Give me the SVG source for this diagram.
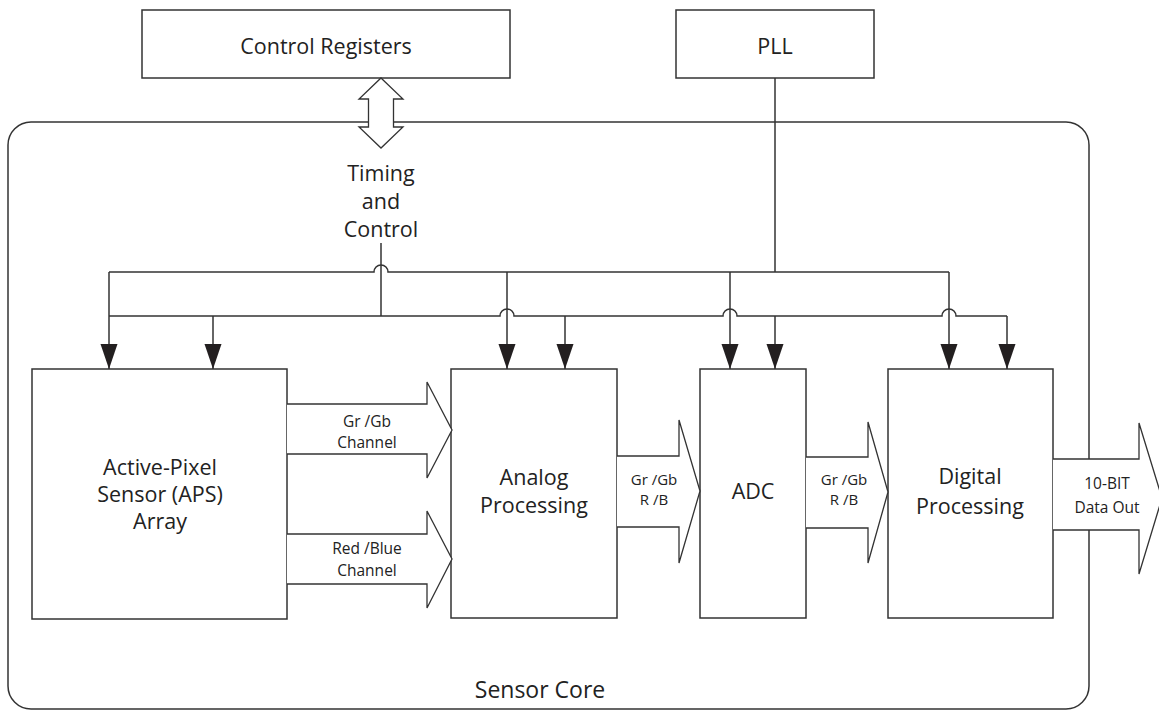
<svg xmlns="http://www.w3.org/2000/svg" width="1159" height="711" viewBox="0 0 1159 711">
<style>
.box{fill:#fff;stroke:#333;stroke-width:1.5}
.ln{fill:none;stroke:#333;stroke-width:1.5}
.bar{fill:#fff;stroke:#333;stroke-width:1.3;stroke-linejoin:miter}
text{font-family:"Open Sans","Noto Sans",sans-serif;fill:#222;text-anchor:middle}
.big{font-size:21.5px}
.sm{font-size:15.5px}
.xs{font-size:15px}
</style>
<defs>
<marker id="ah" markerUnits="userSpaceOnUse" markerWidth="26" markerHeight="18" refX="25" refY="8.5" orient="auto">
<path d="M0,0 L25,8.5 L0,17 Z" fill="#231f20"/>
</marker>
</defs>
<rect width="1159" height="711" fill="#fff"/>
<g id="sensor-core">
<rect class="box" x="8" y="122" width="1081" height="587" rx="23" ry="23"/>
<text class="big" x="540" y="698" style="font-size:23px">Sensor Core</text>
</g>
<g id="control-registers">
<rect class="box" x="142" y="10" width="368" height="68"/>
<text class="big" x="326" y="54">Control Registers</text>
</g>
<g id="pll">
<rect class="box" x="676" y="10" width="198" height="68"/>
<text class="big" x="775" y="54">PLL</text>
</g>
<g id="timing-control">
<text class="big" x="381" y="181">Timing</text>
<text class="big" x="381" y="209">and</text>
<text class="big" x="381" y="237">Control</text>
</g>
<g id="aps">
<rect class="box" x="32" y="369" width="255" height="250"/>
<text class="big" x="160" y="475">Active-Pixel</text>
<text class="big" x="160" y="502">Sensor (APS)</text>
<text class="big" x="160" y="529">Array</text>
</g>
<g id="analog">
<rect class="box" x="451" y="369" width="166" height="249"/>
<text class="big" x="534" y="485">Analog</text>
<text class="big" x="534" y="513">Processing</text>
</g>
<g id="adc">
<rect class="box" x="700" y="369" width="106" height="249"/>
<text class="big" x="753" y="499">ADC</text>
</g>
<g id="digital">
<rect class="box" x="888" y="369" width="165" height="249"/>
<text class="big" x="970" y="484">Digital</text>
<text class="big" x="970" y="514">Processing</text>
</g>
<g id="connectors">
<path class="bar" d="M381,78 L403,99 L393.5,99 L393.5,127 L403,127 L381,148 L359,127 L368.5,127 L368.5,99 L359,99 Z"/>
<line class="ln" x1="775" y1="78" x2="775" y2="272"/>
<line class="ln" x1="381" y1="243" x2="381" y2="316"/>
<path class="ln" d="M109,272 H374 A7,7 0 0 1 388,272 H949"/>
<path class="ln" d="M109,316 H500 A7,7 0 0 1 514,316 H723 A7,7 0 0 1 737,316 H942 A7,7 0 0 1 956,316 H1007"/>
<line class="ln" x1="109" y1="272" x2="109" y2="369" marker-end="url(#ah)"/>
<line class="ln" x1="213" y1="316" x2="213" y2="369" marker-end="url(#ah)"/>
<line class="ln" x1="507" y1="272" x2="507" y2="369" marker-end="url(#ah)"/>
<line class="ln" x1="565" y1="316" x2="565" y2="369" marker-end="url(#ah)"/>
<line class="ln" x1="730" y1="272" x2="730" y2="369" marker-end="url(#ah)"/>
<line class="ln" x1="775" y1="316" x2="775" y2="369" marker-end="url(#ah)"/>
<line class="ln" x1="949" y1="272" x2="949" y2="369" marker-end="url(#ah)"/>
<line class="ln" x1="1007" y1="316" x2="1007" y2="369" marker-end="url(#ah)"/>
<path class="bar" d="M287,404 H427 V382 L452,430 L427,478 V454 H287"/>
<text class="sm" x="367" y="427">Gr  /Gb</text>
<text class="sm" x="367" y="448">Channel</text>
<path class="bar" d="M287,534 H427 V511 L452,559 L427,608 V584 H287"/>
<text class="sm" x="367" y="554">Red /Blue</text>
<text class="sm" x="367" y="576">Channel</text>
<path class="bar" d="M617,456 H679 V420 L700,491 L679,563 V527 H617"/>
<text class="xs" x="654" y="485">Gr /Gb</text>
<text class="xs" x="654" y="505">R /B</text>
<path class="bar" d="M806,457 H868 V422 L888,492 L868,563 V528 H806"/>
<text class="xs" x="844" y="485">Gr /Gb</text>
<text class="xs" x="844" y="505">R /B</text>
<path class="bar" d="M1053,459 H1139 V423 L1162,498 L1139,574 V530 H1053"/>
<text class="sm" x="1107" y="489">10-BIT</text>
<text class="sm" x="1107" y="513">Data Out</text>
</g>
</svg>
